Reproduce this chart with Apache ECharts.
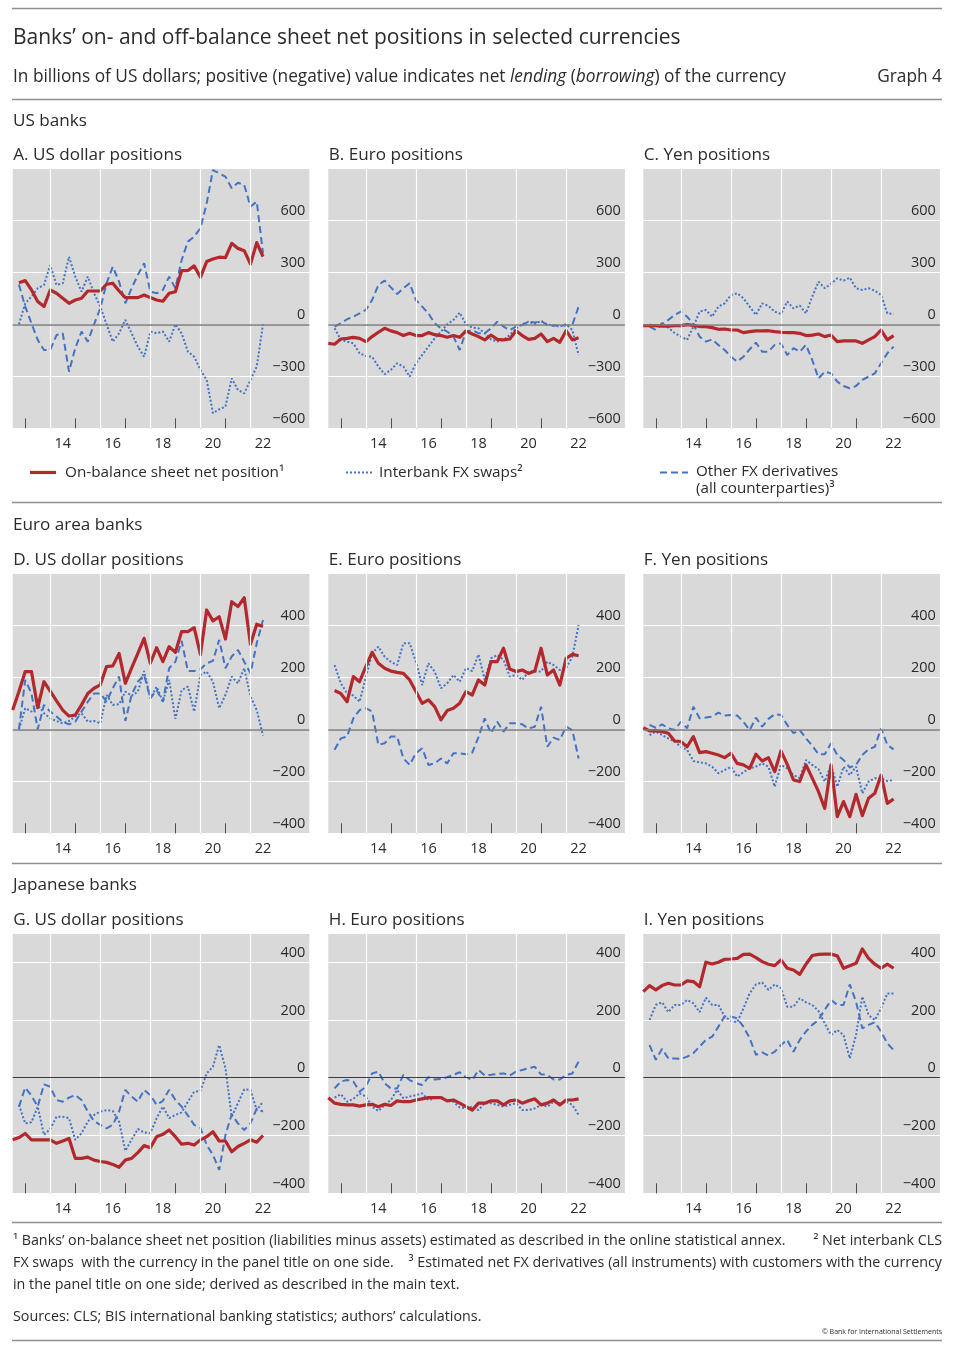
<!DOCTYPE html>
<html>
<head>
<meta charset="utf-8">
<script src="https://cdn.jsdelivr.net/npm/echarts@6/dist/echarts.min.js"></script>
<style>
  html, body { margin: 0; padding: 0; background: #ffffff; }
  #chart { width: 960px; height: 1357px; }
</style>
</head>
<body>
<div id="chart"></div>
<script>
// ---------------- DATA ----------------
const quarters = [2012.5, 2012.75, 2013, 2013.25, 2013.5, 2013.75, 2014, 2014.25, 2014.5, 2014.75,
  2015, 2015.25, 2015.5, 2015.75, 2016, 2016.25, 2016.5, 2016.75, 2017, 2017.25,
  2017.5, 2017.75, 2018, 2018.25, 2018.5, 2018.75, 2019, 2019.25, 2019.5, 2019.75,
  2020, 2020.25, 2020.5, 2020.75, 2021, 2021.25, 2021.5, 2021.75, 2022, 2022.25, 2022.5];

const tickYears = [2013, 2014, 2015, 2016, 2017, 2018, 2019, 2020, 2021, 2022];
const gridYears = [2014, 2016, 2018, 2020, 2022];
const labelYears = [2014.5, 2016.5, 2018.5, 2020.5, 2022.5];
const labelText = ['14', '16', '18', '20', '22'];

const sectionTitles = ['US banks', 'Euro area banks', 'Japanese banks'];
const panelTitles = ['A. US dollar positions', 'B. Euro positions', 'C. Yen positions',
  'D. US dollar positions', 'E. Euro positions', 'F. Yen positions',
  'G. US dollar positions', 'H. Euro positions', 'I. Yen positions'];
const seriesNames = ['On-balance sheet net position', 'Interbank FX swaps', 'Other FX derivatives'];

// US banks
const A_on = [null, 240,252,198,131,102,198,179,150,121,140,150,192,192,192,231,237,192,154,154,154,169,154,140,133,179,188,310,310,337,271,362,377,387,385,467,438,425,348,471,390];
const A_swaps = [null, 0,121,160,208,227,342,227,237,390,275,188,275,179,102,0,-100,-52,25,-52,-129,-187,-42,-52,-42,-100,0,-52,-158,-187,-263,-321,-513,-490,-475,-312,-379,-398,-321,-244,0];
const A_other = [null, 230,102,6,-90,-148,-148,-62,-52,-273,-138,-42,-100,0,92,237,333,246,121,208,285,352,188,179,198,275,208,371,477,506,554,698,890,871,852,785,817,804,679,708,410];

const B_on = [-110,-115,-85,-81,-75,-81,-100,-71,-46,-23,-38,-48,-65,-52,-65,-65,-48,-60,-65,-75,-65,-75,-38,-56,-71,-90,-62,-87,-90,-85,-37,-65,-87,-81,-56,-100,-81,-104,-37,-90,-77];
const B_swaps = [null, -23,-90,-100,-110,-167,-183,-187,-244,-288,-263,-225,-244,-302,-225,-177,-129,-81,-42,0,25,67,0,-19,-23,-52,-87,-100,-90,-62,-23,0,15,2,19,0,-8,-13,0,-33,-177];
const B_other = [null, -13,6,29,44,63,83,140,227,252,213,175,208,237,140,102,63,6,-23,-42,-71,-148,-42,-33,-52,-52,-23,15,-13,-33,-13,-4,15,10,19,-4,-8,-4,-8,-4,102];

const C_on = [-8,-8,-8,-10,-10,-8,-8,-2,-6,-13,-13,-19,-29,-27,-33,-33,-48,-42,-38,-38,-37,-42,-46,-48,-48,-52,-65,-62,-56,-71,-62,-100,-96,-96,-96,-110,-90,-71,-33,-90,-65];
const C_swaps = [null, 0,-15,5,-20,-50,-70,-90,-13,73,83,44,102,121,169,179,150,102,54,121,106,73,60,131,92,108,63,160,246,208,233,265,252,269,208,198,208,194,169,63,60];
const C_other = [null, -13,-33,2,25,54,73,44,0,-71,-100,-87,-119,-148,-187,-215,-187,-144,-106,-158,-158,-119,-110,-177,-138,-158,-119,-206,-312,-273,-283,-331,-356,-369,-356,-321,-302,-283,-225,-167,-129];

// Euro area banks
const D_on = [74,145,222,222,83,183,147,109,74,51,55,94,138,158,171,241,244,292,177,235,292,350,254,314,260,318,296,376,376,391,288,459,417,433,347,491,472,506,327,404,395];
const D_swaps = [null, 0,81,68,94,62,42,32,23,32,49,62,29,32,23,132,94,96,145,129,145,224,119,164,106,190,40,151,164,68,209,222,183,81,132,203,177,235,126,74,-24];
const D_other = [null, 0,190,138,0,94,68,49,29,19,29,68,106,138,138,106,158,203,32,132,183,209,119,151,106,235,260,340,224,224,231,254,263,344,235,280,305,260,215,331,420];

const E_on = [null, 149,138,106,203,183,241,296,254,235,224,219,215,190,145,100,113,87,36,72,81,100,145,132,190,170,260,260,312,232,222,228,215,224,312,209,228,170,273,288,283];
const E_swaps = [null, 247,177,138,130,106,200,292,318,279,260,247,331,331,260,170,254,222,158,177,209,183,235,224,288,190,273,286,267,203,209,190,222,222,222,260,247,228,235,279,401];
const E_other = [null, -79,-35,-28,42,74,81,68,-60,-54,-28,-28,-112,-137,-92,-73,-137,-131,-112,-131,-92,-92,-96,-90,-30,42,-15,29,-9,23,23,19,3,10,87,-67,-32,-41,10,-3,-112];

const F_on = [6,-6,-5,-9,-15,-45,-47,-67,-28,-90,-86,-92,-99,-109,-92,-131,-137,-150,-96,-122,-109,-163,-83,-135,-195,-201,-137,-188,-240,-304,-137,-336,-278,-336,-250,-332,-265,-246,-176,-285,-268];
const F_swaps = [null, -22,-9,-22,-35,-47,-67,-79,-122,-127,-131,-144,-169,-157,-144,-182,-165,-150,-144,-131,-144,-221,-137,-150,-176,-188,-118,-137,-153,-201,-137,-221,-144,-176,-144,-246,-201,-188,-188,-199,-195];
const F_other = [null, 17,6,19,4,-3,29,4,87,42,45,49,64,53,55,53,29,-3,45,10,40,58,55,17,-15,-3,-35,-63,-96,-96,-54,-99,-118,-147,-137,-99,-77,-67,4,-60,-77];

// Japanese banks
const G_on = [-215,-207,-193,-215,-215,-215,-215,-227,-219,-210,-279,-279,-275,-285,-290,-293,-300,-310,-285,-279,-259,-235,-242,-204,-196,-181,-204,-230,-227,-233,-215,-204,-187,-219,-219,-256,-238,-227,-215,-223,-200];
const G_swaps = [null, -94,-158,-154,-100,-198,-177,-135,-135,-140,-215,-192,-152,-129,-117,-112,-115,-152,-253,-215,-177,-189,-192,-140,-100,-140,-129,-120,-83,-48,-46,15,38,113,33,-135,-88,-40,-42,-112,-83];
const G_other = [null, -100,-34,-62,-100,-23,-31,-77,-83,-69,-60,-77,-117,-150,-163,-175,-163,-117,-42,-65,-83,-42,-60,-94,-80,-42,-77,-100,-131,-163,-173,-233,-267,-319,-198,-127,-158,-181,-158,-106,-117];

const H_on = [-69,-88,-92,-94,-94,-98,-94,-92,-100,-92,-96,-80,-83,-83,-77,-73,-69,-69,-69,-80,-77,-88,-100,-112,-88,-88,-80,-80,-94,-80,-77,-88,-80,-73,-94,-88,-77,-94,-77,-77,-73];
const H_swaps = [null, -69,-57,-83,-73,-54,-65,-100,-115,-94,-77,-42,-71,-65,-60,-54,-77,-71,-65,-80,-83,-103,-106,-100,-112,-88,-88,-94,-100,-94,-88,-112,-112,-106,-94,-100,-83,-88,-83,-94,-129];
const H_other = [null, -37,-13,-8,-13,-48,-31,15,21,-19,-37,-37,10,-8,-19,-25,2,-6,-4,2,10,19,2,-8,27,8,10,13,15,8,21,27,33,38,12,10,-6,-6,10,15,56];

const I_on = [298,319,304,319,327,321,321,335,333,315,400,394,400,410,411,413,427,428,416,402,393,388,408,379,373,358,393,423,427,428,428,422,379,388,396,446,413,393,379,393,379];
const I_swaps = [null, 200,252,261,227,252,252,269,258,227,277,252,252,212,197,192,240,292,323,330,304,323,310,246,246,275,261,252,231,188,148,165,148,67,148,281,217,200,240,292,292];
const I_other = [null, 113,62,100,67,67,65,73,85,108,131,142,177,212,212,206,177,137,79,88,77,90,113,131,90,131,160,183,200,235,269,252,252,323,263,171,183,192,160,119,96];

const panelData = [
  [A_on, A_swaps, A_other], [B_on, B_swaps, B_other], [C_on, C_swaps, C_other],
  [D_on, D_swaps, D_other], [E_on, E_swaps, E_other], [F_on, F_swaps, F_other],
  [G_on, G_swaps, G_other], [H_on, H_swaps, H_other], [I_on, I_swaps, I_other]
];

// y-axis scale per row
const rowYMin = [-600, -400, -400];
const rowYMax = [900, 600, 500];
const rowYInterval = [300, 200, 200];

// ---------------- LAYOUT / STYLE ----------------
const FONT = '"Open Sans", "Noto Sans", sans-serif';
const TXT = '#2b2b2b';
const RED = '#b3282d';
const BLUE = '#4472c4';
const BG = '#d9d9d9';
const colLeft = [12.7, 328.3, 643.3];
const colW = 296.6;
const rowTop = [168.3, 573.3, 933.3];
const rowH = 260;

function pairs(arr) {
  return arr.map((v, i) => [quarters[i], v]).filter(p => p[1] !== null);
}
function fmtY(v) { return v < 0 ? '\u2212' + (-v) : String(v); }

const grids = [], xAxes = [], yAxes = [], series = [];
for (let p = 0; p < 9; p++) {
  const r = Math.floor(p / 3), c = p % 3;
  grids.push({
    left: colLeft[c], top: rowTop[r], width: colW, height: rowH,
    show: true, backgroundColor: BG, borderWidth: 0, containLabel: false, outerBoundsMode: 'none'
  });
  xAxes.push({
    type: 'value', gridIndex: p, position: 'bottom', min: 2012.5, max: 2024.35,
    axisLine: { show: false, onZero: false },
    axisTick: { show: true, inside: true, length: 10, customValues: tickYears, lineStyle: { color: '#4d4d4d', width: 1 } },
    axisLabel: {
      customValues: labelYears, margin: 8.5, color: TXT, fontSize: 14.5, fontFamily: FONT,
      formatter: v => labelText[labelYears.indexOf(v)] || String(Math.floor(v)).slice(2)
    },
    splitLine: { show: false }
  });
  yAxes.push({
    type: 'value', gridIndex: p, position: 'right',
    min: rowYMin[r], max: rowYMax[r], interval: rowYInterval[r],
    axisLine: { show: false, onZero: false }, axisTick: { show: false },
    axisLabel: {
      inside: true, verticalAlign: 'bottom', lineHeight: 19, margin: 4, showMaxLabel: false,
      color: TXT, fontSize: 14.5, fontFamily: FONT, formatter: fmtY
    },
    splitLine: { show: true, lineStyle: { color: '#ffffff', width: 1.2 } }
  });
  // vertical gridlines + zero line
  series.push({
    type: 'line', xAxisIndex: p, yAxisIndex: p, data: [], z: 1, silent: true, animation: false,
    markLine: {
      silent: true, symbol: 'none', animation: false, label: { show: false },
      lineStyle: { color: '#ffffff', type: 'solid', width: 1.2 },
      data: gridYears.map(y => ({ xAxis: y })).concat([
        { yAxis: 0, lineStyle: { color: r === 2 ? '#3a3a3a' : '#7a7a7a', width: r === 2 ? 1.2 : 1.6, type: 'solid' } }
      ])
    }
  });
  const d = panelData[p];
  series.push({
    name: seriesNames[1], type: 'line', xAxisIndex: p, yAxisIndex: p, data: pairs(d[1]),
    showSymbol: false, symbol: 'none', silent: true, animation: false, z: 3,
    lineStyle: { color: BLUE, width: 2, type: [2, 2] }
  });
  series.push({
    name: seriesNames[2], type: 'line', xAxisIndex: p, yAxisIndex: p, data: pairs(d[2]),
    showSymbol: false, symbol: 'none', silent: true, animation: false, z: 3,
    lineStyle: { color: BLUE, width: 2, type: [7, 4] }
  });
  series.push({
    name: seriesNames[0], type: 'line', xAxisIndex: p, yAxisIndex: p, data: pairs(d[0]),
    showSymbol: false, symbol: 'none', silent: true, animation: false, z: 4,
    lineStyle: { color: RED, width: 3.2, join: 'round' }
  });
}

function txt(x, y, text, size, extra) {
  return {
    type: 'text', x: x, y: y, silent: true,
    style: Object.assign({
      text: text, fill: TXT, fontSize: size, fontFamily: FONT,
      align: 'left', textAlign: 'left', verticalAlign: 'middle', textVerticalAlign: 'middle'
    }, extra || {})
  };
}
function rule(y) {
  return { type: 'line', silent: true, shape: { x1: 12, y1: y, x2: 942, y2: y }, style: { stroke: '#8f8f8f', lineWidth: 1.5 } };
}
function legendLine(x1, x2, y, color, width, dash) {
  return { type: 'line', silent: true, shape: { x1: x1, y1: y, x2: x2, y2: y }, style: { stroke: color, lineWidth: width, lineDash: dash } };
}

const FN = 14.3;
const SUB = 17.3;
const graphics = [
  rule(8.5), rule(99.5), rule(502.5), rule(863.5), rule(1222.5), rule(1340.5),
  txt(13, 38, 'Banks\u2019 on- and off-balance sheet net positions in selected currencies', 21),
  {
    type: 'text', x: 13, y: 77, silent: true,
    style: {
      text: '{n|In billions of US dollars; positive (negative) value indicates net }{i|lending}{n| (}{i|borrowing}{n|) of the currency}',
      fontSize: SUB, fontFamily: FONT, fill: TXT, verticalAlign: 'middle', textVerticalAlign: 'middle',
      rich: {
        n: { fontSize: SUB, fontFamily: FONT, fill: TXT, color: TXT },
        i: { fontSize: SUB, fontFamily: FONT, fontStyle: 'italic', fill: TXT, color: TXT }
      }
    }
  },
  txt(942, 77, 'Graph 4', SUB, { align: 'right', textAlign: 'right' }),
  txt(13, 121, sectionTitles[0], 17.1),
  txt(13, 525, sectionTitles[1], 17.1),
  txt(13, 885, sectionTitles[2], 17.1),
  // legend
  legendLine(30, 56, 472.5, RED, 3.2, null),
  txt(65, 473, seriesNames[0] + '\u00b9', 15.3),
  legendLine(346, 372, 472.5, BLUE, 2, [2, 2]),
  txt(379, 473, seriesNames[1] + '\u00b2', 15.3),
  legendLine(660, 688, 472.5, BLUE, 2, [7, 4]),
  txt(696, 472, seriesNames[2], 15.2),
  txt(696, 489, '(all counterparties)\u00b3', 15.2),
  // footnotes
  txt(13, 1241, '\u00b9 Banks\u2019 on-balance sheet net position (liabilities minus assets) estimated as described in the online statistical annex.', FN),
  txt(942, 1241, '\u00b2 Net interbank CLS', FN, { align: 'right', textAlign: 'right' }),
  txt(13, 1263, 'FX swaps  with the currency in the panel title on one side.', FN),
  txt(942, 1263, '\u00b3 Estimated net FX derivatives (all instruments) with customers with the currency', FN, { align: 'right', textAlign: 'right' }),
  txt(13, 1285, 'in the panel title on one side; derived as described in the main text.', FN),
  txt(13, 1317, 'Sources: CLS; BIS international banking statistics; authors\u2019 calculations.', FN),
  txt(942, 1331.5, '\u00a9 Bank for International Settlements', 7, { align: 'right', textAlign: 'right' })
];
for (let p = 0; p < 9; p++) {
  const r = Math.floor(p / 3), c = p % 3;
  graphics.push(txt(colLeft[c] + 0.5, rowTop[r] - 13, panelTitles[p], 17.1));
}

const chart = echarts.init(document.getElementById('chart'), null, { renderer: 'canvas', width: 960, height: 1357 });
chart.setOption({
  backgroundColor: '#ffffff',
  animation: false,
  grid: grids,
  xAxis: xAxes,
  yAxis: yAxes,
  series: series,
  graphic: { elements: graphics }
});
</script>
</body>
</html>
